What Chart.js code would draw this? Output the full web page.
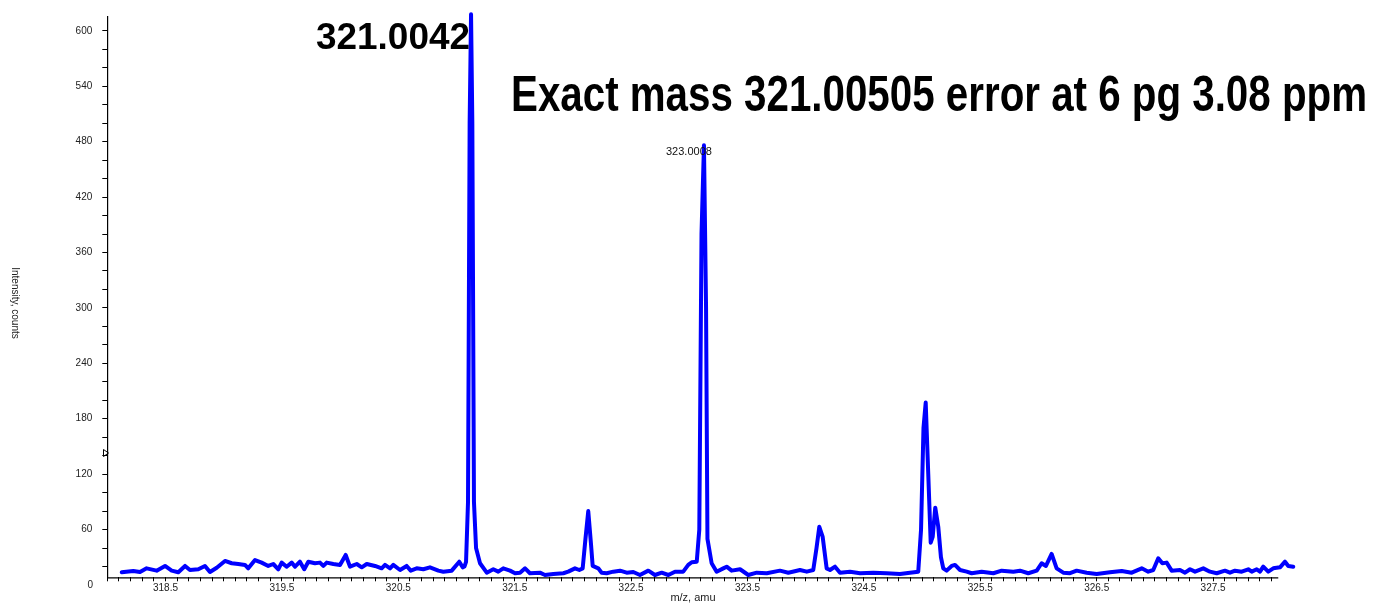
<!DOCTYPE html>
<html><head><meta charset="utf-8">
<script src="https://cdn.jsdelivr.net/npm/chart.js@4.4.1/dist/chart.umd.min.js"></script>
<style>html,body{margin:0;padding:0;background:#fff;overflow:hidden}#wrap{width:1374px;height:606px;position:relative}</style>
</head><body><div id="wrap"><canvas id="c" width="1374" height="606"></canvas></div>
<script>
// m/z values (amu)
const mz = [
318.124,318.223,318.281,318.338,318.424,318.496,318.553,318.610,318.668,318.710,
318.782,318.839,318.882,318.940,319.011,319.069,319.125,319.183,319.211,319.269,
319.326,319.383,319.426,319.469,319.498,319.541,319.584,319.613,319.655,319.692,
319.727,319.784,319.827,319.856,319.885,319.942,319.999,320.048,320.085,320.143,
320.186,320.229,320.300,320.357,320.386,320.429,320.457,320.515,320.572,320.607,
320.658,320.715,320.772,320.844,320.887,320.959,321.024,321.053,321.069,321.082,
321.099,321.113,321.125,321.136,321.150,321.168,321.202,321.260,
321.316,321.359,321.402,321.460,321.503,321.546,321.589,321.631,321.717,321.760,
321.832,321.918,321.960,322.018,322.055,322.084,322.108,322.132,322.155,322.170,
322.218,322.247,322.290,322.347,322.405,322.462,322.519,322.576,322.648,322.705,
322.763,322.820,322.877,322.948,322.991,323.021,323.064,323.086,323.105,323.126,
323.144,323.156,323.192,323.235,323.292,323.321,323.364,323.436,323.507,323.579,
323.665,323.779,323.851,323.951,324.009,324.065,324.093,324.117,324.146,324.180,
324.209,324.252,324.295,324.381,324.467,324.581,324.696,324.810,324.896,324.967,
324.991,325.012,325.031,325.053,325.074,325.091,325.113,325.139,325.162,325.182,
325.211,325.254,325.283,325.326,325.383,325.426,325.512,325.612,325.684,325.784,
325.841,325.912,325.985,326.027,326.064,326.113,326.156,326.213,326.271,326.328,
326.414,326.500,326.614,326.715,326.801,326.887,326.943,326.986,327.029,327.064,
327.101,327.144,327.216,327.259,327.302,327.345,327.416,327.473,327.531,327.602,
327.645,327.688,327.746,327.802,327.832,327.875,327.903,327.931,327.974,328.017,
328.075,328.118,328.146,328.189
];
// Intensity (counts)
const intensity = [
13.7,15.2,14.0,18.0,15.5,20.6,15.5,13.7,20.6,16.2,
17.0,20.6,14.0,18.7,26.0,23.5,22.7,21.7,18.0,27.0,
24.2,20.6,22.7,17.0,24.2,19.8,24.2,19.8,25.2,17.0,
25.2,23.5,24.2,20.6,24.2,22.7,21.7,32.5,19.8,22.7,
19.1,22.7,20.6,18.0,21.7,18.0,21.7,16.2,20.6,15.5,
18.0,17.0,19.1,15.5,14.4,15.5,25.2,19.1,20.0,25.0,
90,500,618,500,90,40,23.5,13.3,
17.0,14.4,18.0,15.5,12.7,13.3,18.0,12.7,13.3,10.8,
11.9,12.7,14.4,18.0,16.2,18.0,50,80,45,20.6,
18.0,13.3,12.7,14.4,15.5,13.3,14.0,10.8,15.5,10.8,
13.3,10.8,14.4,14.4,21.7,24.6,25.2,60,380,476,
300,50,23.5,14.4,18.0,19.8,15.5,17.0,10.8,13.3,
12.7,15.5,13.3,16.2,14.4,16.2,40,63,52,18.0,
16.2,19.8,13.3,14.4,12.7,13.3,12.7,11.9,13.3,14.4,
60,170,197.5,120,45.8,52,83.7,63,30,18.0,
15.5,20.6,21.7,16.2,14.4,12.7,14.4,12.7,15.5,14.4,
15.5,12.7,15.5,23.5,20.6,33.6,18.0,13.3,12.7,15.5,
13.3,11.9,13.8,15.2,13.3,18.0,14.4,16.2,28.9,23.5,
24.2,15.5,16.2,13.3,17.0,14.4,18.0,14.4,12.7,15.5,
13.3,15.5,14.4,17.0,14.4,17.0,14.4,19.8,14.4,18.0,
19.1,25.2,20.6,19.8
];
// Tick labels
const xTickLabels = ['318.5','319.5','320.5','321.5','322.5','323.5','324.5','325.5','326.5','327.5'];
const yTickLabels = ['0','60','120','180','240','300','360','420','480','540','600'];
// Annotations
const peakLabelMain = '321.0042';
const peakLabelSecond = '323.0008';
const headline = 'Exact mass 321.00505 error at 6 pg 3.08 ppm';
const xTitle = 'm/z, amu';
const yTitle = 'Intensity, counts';

const X_MIN = 318.0, X_MAX = 328.19, X_AXIS_END = 328.06;
const Y_MIN = 8.3, Y_MAX = 615;
const FONT = '"Liberation Sans", Arial, sans-serif';

const overlay = {
  id: 'overlay',
  afterDraw(chart) {
    const ctx = chart.ctx, xs = chart.scales.x, ys = chart.scales.y;
    ctx.save();
    ctx.strokeStyle = '#000'; ctx.lineWidth = 1.2;
    ctx.beginPath();
    ctx.moveTo(xs.getPixelForValue(X_MIN), ys.bottom + 0.5);
    ctx.lineTo(xs.getPixelForValue(X_AXIS_END), ys.bottom + 0.5);
    ctx.stroke();
    ctx.fillStyle = '#222'; ctx.font = '10px ' + FONT;
    ctx.textAlign = 'right'; ctx.textBaseline = 'middle';
    ctx.fillText(yTickLabels[0], 93, ys.getPixelForValue(0));
    ctx.textAlign = 'center'; ctx.font = '11px ' + FONT;
    ctx.fillText(xTitle, 693, 598);
    ctx.save(); ctx.translate(15, 303); ctx.rotate(Math.PI / 2);
    ctx.font = '10px ' + FONT; ctx.fillText(yTitle, 0, 0); ctx.restore();
    ctx.strokeStyle = '#000'; ctx.lineWidth = 1;
    ctx.beginPath(); ctx.moveTo(103.5, 449.5); ctx.lineTo(108.5, 453); ctx.lineTo(103.5, 456.5); ctx.closePath(); ctx.stroke();
    ctx.textBaseline = 'alphabetic'; ctx.textAlign = 'left'; ctx.fillStyle = '#000';
    ctx.font = 'bold 36px ' + FONT;
    let w = ctx.measureText(peakLabelMain).width;
    ctx.save(); ctx.translate(316, 48.5); ctx.scale(154 / w, 1); ctx.fillText(peakLabelMain, 0, 0); ctx.restore();
    ctx.font = '11px ' + FONT; ctx.fillStyle = '#111';
    ctx.fillText(peakLabelSecond, 666, 155);
    ctx.fillStyle = '#000';
    ctx.font = 'bold 50px "Liberation Sans Narrow", ' + FONT;
    w = ctx.measureText(headline).width;
    ctx.save(); ctx.translate(511, 111); ctx.scale(856 / w, 1); ctx.fillText(headline, 0, 0); ctx.restore();
    ctx.restore();
  }
};

new Chart(document.getElementById('c'), {
  type: 'line',
  data: {
    datasets: [{
      data: mz.map((m, i) => ({x: m, y: intensity[i]})),
      borderColor: '#0000ff', borderWidth: 4, pointRadius: 0, tension: 0,
      borderJoinStyle: 'round', borderCapStyle: 'round', fill: false, clip: false
    }]
  },
  options: {
    responsive: false, animation: false, devicePixelRatio: 1,
    layout: {padding: {left: 0, top: 17, right: 80.6, bottom: 0}},
    plugins: {legend: {display: false}, tooltip: {enabled: false}},
    scales: {
      x: {
        type: 'linear', min: X_MIN, max: X_MAX,
        afterBuildTicks(s) { const t = []; for (let i = 0; i <= 100; i++) t.push({value: +(X_MIN + i * 0.1).toFixed(1)}); s.ticks = t; },
        afterFit(s) { s.height = 28.7; },
        ticks: {autoSkip: false, maxRotation: 0, minRotation: 0, padding: 1, color: '#222', font: {size: 10, family: FONT},
          callback(v) { const l = (+v).toFixed(1); return xTickLabels.includes(l) ? l : ''; }},
        grid: {drawOnChartArea: false, drawTicks: true, tickLength: 4, tickColor: '#000', tickWidth: 1},
        border: {display: false}
      },
      y: {
        type: 'linear', min: Y_MIN, max: Y_MAX,
        afterBuildTicks(s) { const t = []; for (let v = 20; v <= 600; v += 20) t.push({value: v}); s.ticks = t; },
        afterFit(s) { s.width = 107.3; },
        ticks: {autoSkip: false, padding: 10, color: '#222', font: {size: 10, family: FONT},
          callback(v) { const l = String(v); return yTickLabels.includes(l) ? l : ''; }},
        grid: {drawOnChartArea: false, drawTicks: true, tickLength: 5, tickColor: '#000', tickWidth: 1},
        border: {display: true, color: '#000', width: 1.2}
      }
    }
  },
  plugins: [overlay]
});
</script>
</body></html>
